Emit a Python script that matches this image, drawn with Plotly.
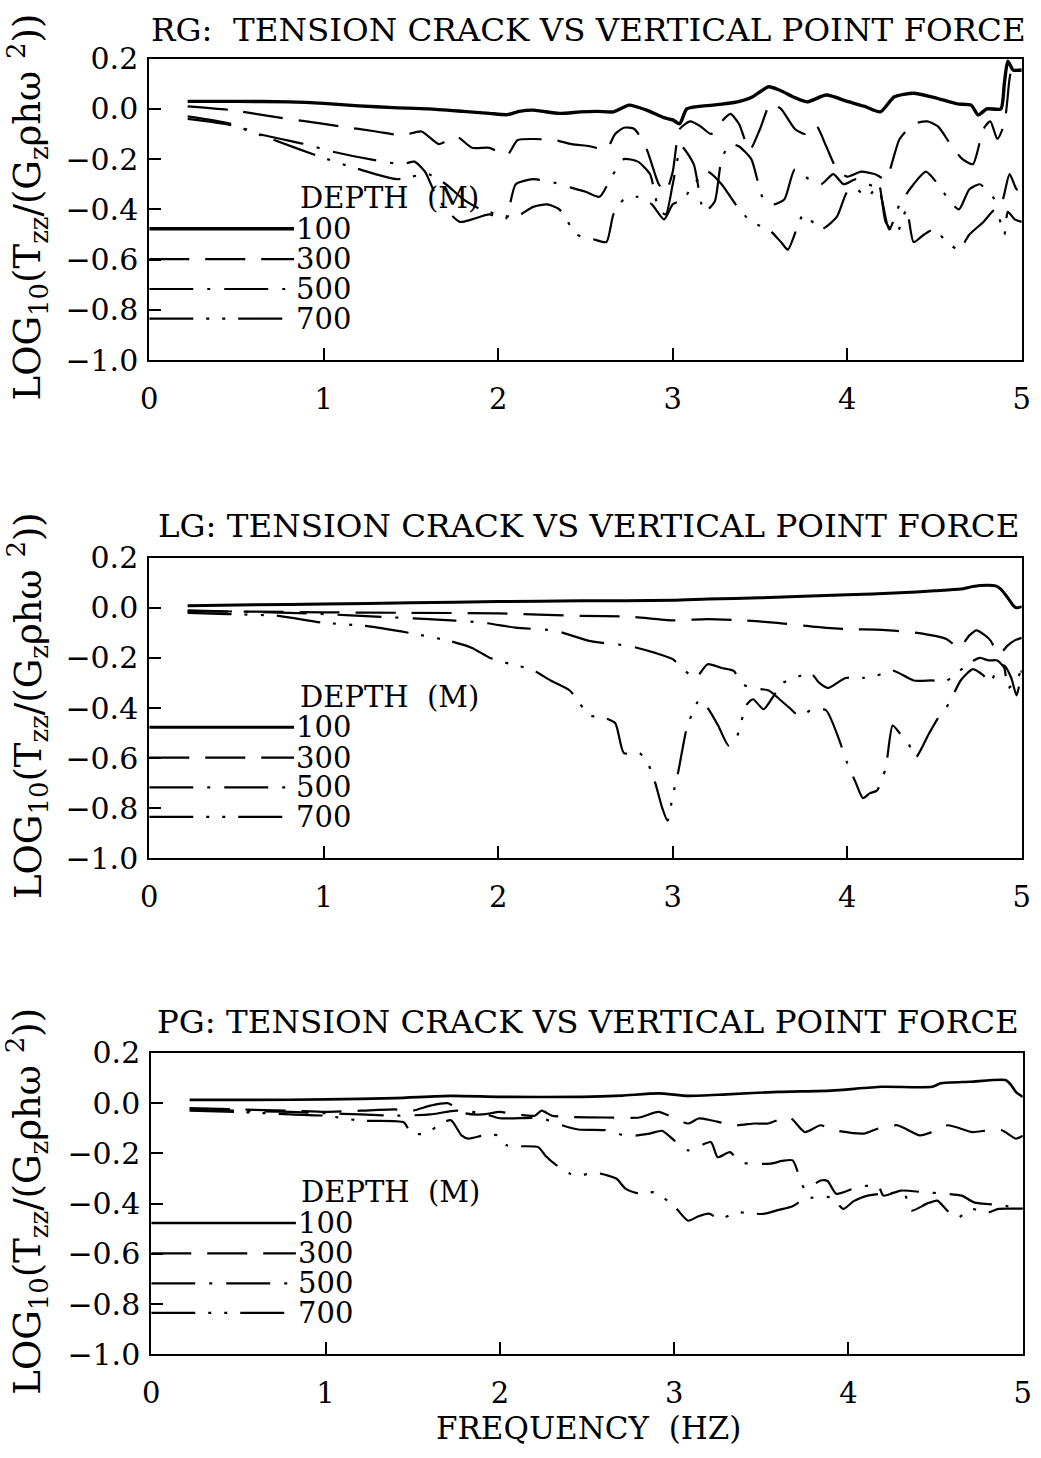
import plotly.graph_objects as go

# ---------------- data ----------------
depth_labels = ["100", "300", "500", "700"]
x_ticks = [0, 1, 2, 3, 4, 5]
y_ticks = [0.2, 0.0, -0.2, -0.4, -0.6, -0.8, -1.0]
y_tick_text = ["0.2", "0.0", "\u22120.2", "\u22120.4", "\u22120.6", "\u22120.8", "\u22121.0"]
titles = ["RG:\u00a0\u00a0TENSION CRACK VS VERTICAL POINT FORCE",
          "LG: TENSION CRACK VS VERTICAL POINT FORCE",
          "PG: TENSION CRACK VS VERTICAL POINT FORCE"]

# RG panel
rg_100_f = [0.22, 0.5, 0.8, 1.0, 1.2, 1.4, 1.6, 1.8, 1.95, 2.05, 2.12, 2.2, 2.35, 2.47, 2.57, 2.66, 2.75, 2.85,
            2.95, 3.0, 3.04, 3.08, 3.15, 3.23, 3.37, 3.45, 3.55, 3.61, 3.7, 3.77, 3.88, 4.0, 4.1, 4.19, 4.27, 4.38,
            4.5, 4.63, 4.71, 4.75, 4.8, 4.88, 4.9, 4.92, 4.95, 5.0]
rg_100_y = [0.03, 0.03, 0.028, 0.022, 0.012, 0.005, 0.0, -0.01, -0.018, -0.023, -0.01, -0.005, -0.018, -0.012,
            -0.01, -0.012, 0.015, -0.005, -0.035, -0.044, -0.059, 0.0, 0.01, 0.015, 0.028, 0.045, 0.088, 0.075,
            0.045, 0.028, 0.055, 0.03, 0.01, -0.012, 0.048, 0.062, 0.045, 0.02, 0.015, -0.024, 0.0, 0.0, 0.1,
            0.19, 0.155, 0.155]
rg_300_f = [0.22, 0.47, 0.7, 0.9, 1.1, 1.3, 1.45, 1.56, 1.66, 1.76, 1.85, 1.95, 2.05, 2.11, 2.2, 2.33, 2.42, 2.52,
            2.62, 2.67, 2.72, 2.78, 2.85, 2.92, 2.96, 3.0, 3.04, 3.1, 3.16, 3.22, 3.28, 3.33, 3.38, 3.44, 3.5, 3.56,
            3.62, 3.7, 3.76, 3.82, 3.88, 3.94, 4.0, 4.08, 4.16, 4.22, 4.3, 4.38, 4.46, 4.52, 4.6, 4.66, 4.72, 4.78,
            4.82, 4.86, 4.9, 4.93, 4.95]
rg_300_y = [0.01, -0.005, -0.03, -0.05, -0.07, -0.09, -0.105, -0.09, -0.14, -0.11, -0.155, -0.155, -0.185,
            -0.125, -0.12, -0.125, -0.14, -0.148, -0.16, -0.1, -0.075, -0.08, -0.16, -0.3, -0.33, -0.25, -0.08,
            -0.05, -0.07, -0.1, -0.05, -0.02, -0.06, -0.165, -0.08, 0.02, 0.0, -0.08, -0.1, -0.065, -0.15, -0.24,
            -0.27, -0.25, -0.26, -0.28, -0.12, -0.06, -0.05, -0.07, -0.15, -0.2, -0.22, -0.08, -0.05, -0.12,
            -0.06, 0.12, 0.19]
rg_500_f = [0.22, 0.47, 0.63, 0.89, 1.05, 1.3, 1.45, 1.52, 1.58, 1.64, 1.7, 1.78, 1.85, 1.95, 2.04, 2.1, 2.2, 2.3,
            2.4, 2.5, 2.58, 2.65, 2.72, 2.8, 2.87, 2.92, 2.96, 3.0, 3.05, 3.12, 3.18, 3.24, 3.28, 3.33, 3.38, 3.45,
            3.52, 3.58, 3.64, 3.7, 3.78, 3.85, 3.92, 3.98, 4.05, 4.12, 4.18, 4.24, 4.3, 4.38, 4.45, 4.52, 4.58,
            4.64, 4.7, 4.76, 4.82, 4.88, 4.93, 4.97, 5.0]
rg_500_y = [-0.03, -0.06, -0.1, -0.14, -0.17, -0.205, -0.22, -0.21, -0.25, -0.34, -0.4, -0.45, -0.44, -0.42,
            -0.44, -0.3, -0.28, -0.29, -0.31, -0.33, -0.35, -0.27, -0.2, -0.21, -0.26, -0.4, -0.42, -0.3, -0.15,
            -0.22, -0.41, -0.37, -0.2, -0.14, -0.15, -0.2, -0.36, -0.38, -0.36, -0.24, -0.28, -0.3, -0.26, -0.3,
            -0.28, -0.3, -0.32, -0.48, -0.38, -0.3, -0.25, -0.3, -0.36, -0.4, -0.32, -0.3, -0.34, -0.38, -0.26,
            -0.32, -0.33]
rg_700_f = [0.22, 0.47, 0.7, 0.96, 1.2, 1.42, 1.5, 1.6, 1.7, 1.8, 1.9, 2.0, 2.1, 2.2, 2.28, 2.35, 2.45, 2.55,
            2.62, 2.66, 2.72, 2.8, 2.88, 2.95, 3.0, 3.06, 3.12, 3.2, 3.28, 3.36, 3.45, 3.55, 3.62, 3.66, 3.75, 3.85,
            3.94, 4.0, 4.05, 4.12, 4.18, 4.22, 4.28, 4.34, 4.38, 4.44, 4.5, 4.57, 4.64, 4.7, 4.78, 4.85, 4.9, 4.92,
            4.96, 5.0]
rg_700_y = [-0.04, -0.065, -0.12, -0.186, -0.24, -0.28, -0.27, -0.26, -0.3, -0.36, -0.4, -0.42, -0.43, -0.39,
            -0.38, -0.4, -0.5, -0.52, -0.53, -0.42, -0.36, -0.35, -0.38, -0.44, -0.38, -0.36, -0.3, -0.25, -0.3,
            -0.38, -0.45, -0.48, -0.53, -0.56, -0.42, -0.48, -0.43, -0.33, -0.32, -0.35, -0.3, -0.45, -0.5, -0.4,
            -0.53, -0.5, -0.48, -0.53, -0.56, -0.5, -0.45, -0.4, -0.5, -0.41, -0.44, -0.45]

# LG panel
lg_100_f = [0.22, 0.6, 1.0, 1.5, 2.0, 2.47, 3.0, 3.2, 3.5, 4.0, 4.3, 4.5, 4.65, 4.72, 4.8, 4.85, 4.88, 4.92, 4.95,
            4.97, 5.0]
lg_100_y = [0.008, 0.012, 0.015, 0.02, 0.025, 0.028, 0.03, 0.035, 0.04, 0.052, 0.06, 0.068, 0.075, 0.085, 0.09,
            0.088, 0.075, 0.04, 0.01, 0.0, 0.005]
lg_300_f = [0.22, 0.6, 1.0, 1.5, 2.0, 2.47, 2.75, 3.0, 3.2, 3.4, 3.6, 3.8, 4.0, 4.2, 4.4, 4.57, 4.64, 4.7, 4.74,
            4.79, 4.82, 4.87, 4.92, 4.96, 5.0]
lg_300_y = [-0.015, -0.015, -0.018, -0.02, -0.022, -0.032, -0.035, -0.05, -0.045, -0.05, -0.06, -0.075, -0.085,
            -0.088, -0.1, -0.125, -0.16, -0.11, -0.09, -0.11, -0.13, -0.185, -0.15, -0.13, -0.12]
lg_500_f = [0.22, 0.5, 0.8, 1.0, 1.3, 1.6, 1.91, 2.1, 2.33, 2.52, 2.6, 2.75, 2.9, 3.0, 3.06, 3.13, 3.2, 3.28, 3.35,
            3.39, 3.45, 3.55, 3.62, 3.67, 3.73, 3.81, 3.88, 3.95, 4.0, 4.05, 4.09, 4.13, 4.17, 4.22, 4.26, 4.3,
            4.35, 4.39, 4.47, 4.52, 4.58, 4.65, 4.72, 4.78, 4.82, 4.86, 4.9, 4.94, 4.97, 5.0]
lg_500_y = [-0.01, -0.015, -0.02, -0.025, -0.035, -0.045, -0.059, -0.079, -0.092, -0.132, -0.14, -0.152, -0.18,
            -0.205, -0.245, -0.28, -0.225, -0.24, -0.252, -0.3, -0.32, -0.33, -0.37, -0.4, -0.435, -0.4, -0.41,
            -0.52, -0.62, -0.7, -0.76, -0.74, -0.73, -0.64, -0.47, -0.5, -0.54, -0.6, -0.5, -0.44, -0.385, -0.29,
            -0.245, -0.27, -0.3, -0.24, -0.23, -0.28, -0.35, -0.25]
lg_700_f = [0.22, 0.45, 0.74, 0.99, 1.24, 1.49, 1.72, 1.85, 1.95, 2.1, 2.19, 2.3, 2.41, 2.47, 2.52, 2.59, 2.67,
            2.72, 2.81, 2.86, 2.9, 2.94, 2.97, 3.0, 3.03, 3.08, 3.11, 3.15, 3.2, 3.26, 3.32, 3.37, 3.42, 3.46,
            3.52, 3.57, 3.63, 3.7, 3.79, 3.84, 3.89, 3.99, 4.09, 4.17, 4.26, 4.38, 4.48, 4.57, 4.63, 4.7, 4.76,
            4.81, 4.86, 4.9, 4.92, 4.96, 5.0]
lg_700_y = [-0.02, -0.025, -0.032, -0.059, -0.072, -0.1, -0.132, -0.16, -0.199, -0.23, -0.245, -0.29, -0.33,
            -0.385, -0.43, -0.435, -0.46, -0.58, -0.58, -0.625, -0.7, -0.8, -0.85, -0.75, -0.66, -0.48, -0.425,
            -0.37, -0.4, -0.47, -0.55, -0.51, -0.39, -0.365, -0.405, -0.36, -0.3, -0.28, -0.26, -0.3, -0.32,
            -0.28, -0.28, -0.27, -0.25, -0.29, -0.29, -0.29, -0.26, -0.22, -0.2, -0.21, -0.21, -0.24, -0.32,
            -0.3, -0.245]

# PG panel
pg_100_f = [0.22, 0.6, 1.0, 1.4, 1.72, 2.0, 2.47, 2.7, 2.91, 3.08, 3.3, 3.6, 3.9, 4.19, 4.48, 4.53, 4.7, 4.9, 4.93,
            4.96, 5.0]
pg_100_y = [0.013, 0.013, 0.015, 0.02, 0.029, 0.025, 0.025, 0.03, 0.039, 0.029, 0.035, 0.045, 0.05, 0.065, 0.065,
            0.079, 0.085, 0.092, 0.075, 0.045, 0.025]
pg_300_f = [0.22, 0.5, 0.8, 1.0, 1.2, 1.4, 1.5, 1.6, 1.7, 1.8, 1.9, 2.0, 2.1, 2.2, 2.24, 2.3, 2.4, 2.6, 2.8, 2.91,
            3.08, 3.14, 3.21, 3.35, 3.46, 3.54, 3.66, 3.75, 3.84, 3.92, 4.09, 4.17, 4.28, 4.41, 4.48, 4.57, 4.71,
            4.8, 4.88, 4.96, 5.0]
pg_300_y = [-0.02, -0.025, -0.03, -0.035, -0.03, -0.025, -0.03, -0.01, 0.0, -0.04, -0.045, -0.035, -0.045,
            -0.05, -0.03, -0.05, -0.055, -0.057, -0.057, -0.035, -0.081, -0.061, -0.068, -0.088, -0.081, -0.081,
            -0.055, -0.115, -0.088, -0.108, -0.121, -0.101, -0.088, -0.128, -0.115, -0.088, -0.115, -0.108,
            -0.108, -0.141, -0.13]
pg_500_f = [0.22, 0.5, 0.8, 1.0, 1.2, 1.4, 1.6, 1.75, 1.9, 2.0, 2.24, 2.32, 2.45, 2.61, 2.73, 2.86, 2.93, 3.0,
            3.08, 3.21, 3.25, 3.32, 3.38, 3.55, 3.62, 3.68, 3.75, 3.84, 3.88, 3.93, 4.05, 4.17, 4.2, 4.3, 4.44,
            4.55, 4.65, 4.72, 4.9, 4.96, 5.0]
pg_500_y = [-0.025, -0.03, -0.035, -0.04, -0.045, -0.05, -0.045, -0.03, -0.04, -0.06, -0.06, -0.08, -0.105,
            -0.108, -0.131, -0.121, -0.11, -0.148, -0.188, -0.155, -0.215, -0.195, -0.235, -0.241, -0.23, -0.228,
            -0.341, -0.308, -0.31, -0.361, -0.335, -0.328, -0.368, -0.348, -0.355, -0.36, -0.368, -0.395, -0.408,
            -0.42, -0.42]
pg_700_f = [0.22, 0.5, 0.8, 1.0, 1.2, 1.45, 1.49, 1.58, 1.66, 1.72, 1.78, 1.82, 1.91, 1.99, 2.04, 2.22, 2.26,
            2.33, 2.4, 2.45, 2.52, 2.58, 2.67, 2.72, 2.8, 2.89, 3.0, 3.08, 3.14, 3.2, 3.26, 3.36, 3.51, 3.6, 3.68,
            3.75, 3.9, 3.97, 4.03, 4.1, 4.2, 4.32, 4.36, 4.45, 4.51, 4.57, 4.63, 4.7, 4.8, 4.86, 4.93, 5.0]
pg_700_y = [-0.03, -0.035, -0.045, -0.05, -0.07, -0.077, -0.12, -0.12, -0.081, -0.068, -0.128, -0.141, -0.128,
            -0.128, -0.168, -0.175, -0.208, -0.25, -0.28, -0.288, -0.28, -0.281, -0.301, -0.34, -0.36, -0.355,
            -0.41, -0.468, -0.45, -0.44, -0.461, -0.435, -0.441, -0.425, -0.41, -0.381, -0.375, -0.421, -0.39,
            -0.37, -0.36, -0.361, -0.428, -0.4, -0.388, -0.43, -0.455, -0.421, -0.435, -0.421, -0.42, -0.42]

panels_data = [
    [(rg_100_f, rg_100_y), (rg_300_f, rg_300_y), (rg_500_f, rg_500_y), (rg_700_f, rg_700_y)],
    [(lg_100_f, lg_100_y), (lg_300_f, lg_300_y), (lg_500_f, lg_500_y), (lg_700_f, lg_700_y)],
    [(pg_100_f, pg_100_y), (pg_300_f, pg_300_y), (pg_500_f, pg_500_y), (pg_700_f, pg_700_y)],
]

# ---------------- styling / layout ----------------
FONT = "DejaVu Serif"
W, H = 1041, 1458
# the captured picture shows the page slightly inset and scaled; compensate
AX, SX = 10.0, 0.981
AY, SY = 16.3, 0.977


def px(xp):
    return ((xp - AX) / SX) / W


def py(yp):
    return 1 - ((yp - AY) / SY) / H


# plot-area boxes (left, right, top, bottom) in picture pixels
boxes = [(150, 1021, 57, 359), (150, 1021, 557, 858), (152, 1022, 1053, 1355)]
title_y = [28, 525, 1022]
dashes = ["solid", "40px,16px", "44px,14px,3px,14px", "44px,13px,3px,13px,3px,13px"]
widths = [[3.4, 2.2, 2.2, 2.2], [3.0, 2.2, 2.2, 2.2], [2.6, 2.2, 2.2, 2.2]]
legend_y = [-0.477, -0.598, -0.717, -0.835]

fig = go.Figure()
layout = dict(width=W, height=H, margin=dict(l=0, r=0, t=0, b=0, pad=0), autosize=False,
              paper_bgcolor="white", plot_bgcolor="white", showlegend=False,
              font=dict(family=FONT, color="black"))
annotations = []
shapes = []

for i, (data, box) in enumerate(zip(panels_data, boxes)):
    n = "" if i == 0 else str(i + 1)
    xa, ya = "x" + n, "y" + n
    for j, (f, v) in enumerate(data):
        fig.add_trace(go.Scatter(x=f, y=v, mode="lines", xaxis=xa, yaxis=ya,
                                 line=dict(color="black", width=widths[i][j], dash=dashes[j],
                                           shape="spline", smoothing=0.6),
                                 hoverinfo="skip"))
    l, r, t, b = box
    layout["xaxis" + n] = dict(domain=[px(l), px(r)], range=[0, 5], anchor=ya,
                               showgrid=False, zeroline=False, showline=True, mirror=True,
                               linecolor="black", linewidth=2, ticks="inside", ticklen=12,
                               tickwidth=1.5, tickcolor="black", tickvals=x_ticks,
                               ticktext=[str(t_) for t_ in x_ticks],
                               tickfont=dict(family=FONT, size=29, color="black"),
                               ticklabelstandoff=12, ticklabeloverflow="allow")
    layout["yaxis" + n] = dict(domain=[py(b), py(t)], range=[-1.0, 0.2], anchor=xa,
                               showgrid=False, zeroline=False, showline=True, mirror=True,
                               linecolor="black", linewidth=2, ticks="inside", ticklen=12,
                               tickwidth=1.5, tickcolor="black", tickvals=y_ticks,
                               ticktext=y_tick_text,
                               tickfont=dict(family=FONT, size=30, color="black"),
                               ticklabelstandoff=3, ticklabeloverflow="allow")
    annotations.append(dict(text=titles[i], xref="paper", yref="paper", x=px(588), y=py(title_y[i]),
                            xanchor="center", yanchor="middle", showarrow=False,
                            font=dict(family=FONT, size=32.5, color="black")))
    annotations.append(dict(text="LOG<sub>10</sub>(T<sub>zz</sub>/(G<sub>z</sub>\u03c1h\u03c9 <sup>2</sup>))",
                            xref="paper", yref="paper", x=px(28), y=py((t + b) / 2 - 2),
                            xanchor="center", yanchor="middle", textangle=-90, showarrow=False,
                            font=dict(family=FONT, size=37, color="black")))
    annotations.append(dict(text="DEPTH\u00a0\u00a0(M)", xref=xa, yref=ya, x=0.85, y=-0.355,
                            xanchor="left", yanchor="middle", showarrow=False,
                            font=dict(family=FONT, size=29, color="black")))
    for j, lab in enumerate(depth_labels):
        shapes.append(dict(type="line", xref=xa, yref=ya, x0=0, x1=0.83, y0=legend_y[j], y1=legend_y[j],
                           line=dict(color="black", width=widths[i][j], dash=dashes[j])))
        annotations.append(dict(text=lab, xref=xa, yref=ya, x=0.83, y=legend_y[j],
                                xanchor="left", yanchor="middle", showarrow=False,
                                font=dict(family=FONT, size=29, color="black")))

annotations.append(dict(text="FREQUENCY\u00a0\u00a0(HZ)", xref="paper", yref="paper", x=px(588), y=py(1429),
                        xanchor="center", yanchor="middle", showarrow=False,
                        font=dict(family=FONT, size=31, color="black")))

layout["annotations"] = annotations
layout["shapes"] = shapes
fig.update_layout(**layout)
fig.write_html("out.html", config={"displayModeBar": False},
               post_script="document.body.style.margin='0';document.body.style.overflow='hidden';")
